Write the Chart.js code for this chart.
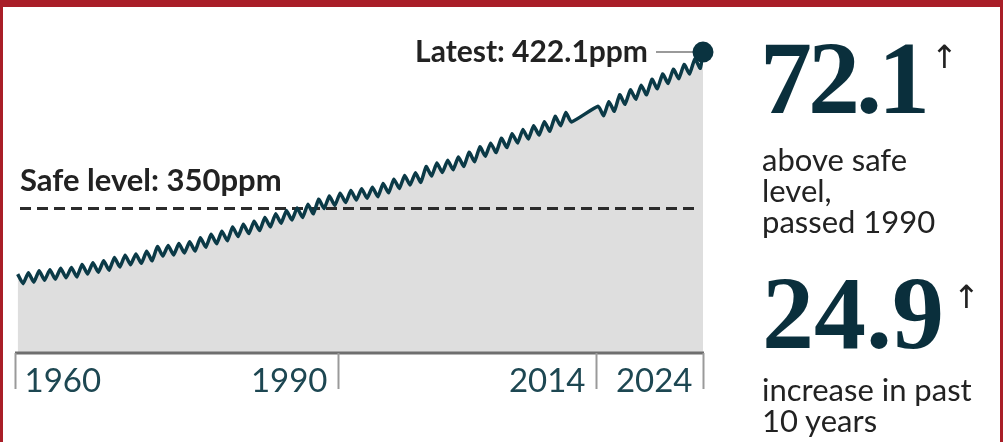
<!DOCTYPE html>
<html>
<head>
<meta charset="utf-8">
<script src="https://cdn.jsdelivr.net/npm/chart.js@4/dist/chart.umd.min.js"></script>
<style>
  html, body { margin: 0; padding: 0; background: #fff; }
  #wrap { position: relative; width: 1003px; height: 442px; overflow: hidden; background: #fff; }
  #c { position: absolute; left: 0; top: 0; }
  #frame { position: absolute; left: 0; top: 0; width: 1003px; height: 442px; box-sizing: border-box;
           border-top: 7px solid #a91e28; border-left: 3px solid #a91e28; border-right: 3px solid #a91e28; pointer-events: none; }
  .big { position: absolute; font-family: "Liberation Serif", serif; font-weight: 700; font-size: 104px; line-height: 1;
         color: #0a2f3c; white-space: nowrap; }
  .arrow { position: absolute; font-family: "DejaVu Sans", sans-serif; font-size: 32px; line-height: 1; color: #222; }
  .note { position: absolute; font-family: Lato, sans-serif; font-size: 31px; line-height: 31px; color: #222; white-space: nowrap; }
</style>
</head>
<body>
<div id="wrap">
  <canvas id="c" width="1003" height="442"></canvas>
  <div class="big" style="left:760px; top:26px; letter-spacing:-4px;">72.1</div>
  <div class="arrow" style="left:931px; top:41px;">↑</div>
  <div class="note" style="left:762px; top:144px;">above safe<br>level,<br>passed 1990</div>
  <div class="big" style="left:762px; top:261px; letter-spacing:0px;">24.9</div>
  <div class="arrow" style="left:953px; top:281px;">↑</div>
  <div class="note" style="left:762px; top:374px;">increase in past<br>10 years</div>
  <div id="frame"></div>
</div>
<script>
// ---- data (ppm) ----
const years = [1960,1961,1962,1963,1964,1965,1966,1967,1968,1969,
               1970,1971,1972,1973,1974,1975,1976,1977,1978,1979,
               1980,1981,1982,1983,1984,1985,1986,1987,1988,1989,
               1990,1991,1992,1993,1994,1995,1996,1997,1998,1999,
               2000,2001,2002,2003,2004,2005,2006,2007,2008,2009,
               2010,2011,
               2014,2015,2016,2017,2018,2019,2020,2021,2022,2023];
const seasonalHighs = [319.1,319.8,320.7,321.2,321.8,322.2,323.6,324.4,325.3,326.8,
                       327.9,328.5,329.7,331.9,332.4,333.3,334.2,336.0,337.6,339.0,
                       341.0,342.3,343.7,345.4,347.1,348.6,349.8,351.5,353.9,355.4,
                       356.7,357.9,358.7,359.4,361.2,363.2,364.9,366.1,369.0,370.7,
                       371.9,373.5,375.7,378.2,379.9,382.2,384.3,386.2,388.0,389.8,
                       392.3,394.1,
                       397.0,399.1,402.3,404.6,406.7,409.5,412.0,414.2,416.4,419.0];
const seasonalLows  = [314.7,315.4,316.3,316.8,317.4,317.8,319.2,320.0,320.9,322.4,
                       323.5,324.1,325.3,327.5,328.0,328.9,329.8,331.6,333.2,334.6,
                       336.6,337.9,339.3,341.0,342.7,344.2,345.4,347.1,349.5,351.0,
                       352.3,353.5,354.3,355.0,356.8,358.8,360.5,361.7,364.6,366.3,
                       367.5,369.1,371.3,373.8,375.5,377.8,379.9,381.8,383.6,385.4,
                       387.9,389.7,
                       392.6,394.7,397.9,400.2,402.3,405.1,407.6,409.8,412.0,414.6];
const latestYear = 2024.0;
const latestValue = 422.1;
const safeLevel = 350;
const tickYears = [1960, 1990, 2014, 2024];
const tickLabels = ['1960', '1990', '2014', '2024'];
const safeLabel = 'Safe level: 350ppm';
const latestLabel = 'Latest: 422.1ppm';

const points = [];
years.forEach((y, i) => {
  points.push({ x: y + 0.25, y: seasonalHighs[i] });
  points.push({ x: y + 0.75, y: seasonalLows[i] });
});
points.push({ x: latestYear, y: latestValue });

const overlay = {
  id: 'overlay',
  beforeDatasetDraw(chart) {
    const { ctx, scales: { x, y } } = chart;
    const py = Math.round(y.getPixelForValue(safeLevel)) + 0.5;
    ctx.save();
    ctx.strokeStyle = '#2b2b2b';
    ctx.lineWidth = 3;
    ctx.setLineDash([11, 6]);
    ctx.beginPath();
    ctx.moveTo(x.left + 5, py);
    ctx.lineTo(x.right - 6, py);
    ctx.stroke();
    ctx.restore();
  },
  afterDatasetsDraw(chart) {
    const { ctx, chartArea, scales: { x, y } } = chart;
    ctx.save();
    const ay = chartArea.bottom + 1;
    ctx.strokeStyle = '#6e6e6e';
    ctx.lineWidth = 3;
    ctx.beginPath();
    ctx.moveTo(x.left, ay);
    ctx.lineTo(x.right + 1, ay);
    ctx.stroke();
    ctx.font = '33px Lato, sans-serif';
    ctx.fillStyle = '#1d4752';
    ctx.textBaseline = 'alphabetic';
    tickYears.forEach((t, i) => {
      const px = Math.round(x.getPixelForValue(t)) + 0.5;
      ctx.strokeStyle = '#9a9a9a';
      ctx.lineWidth = 2;
      ctx.beginPath();
      ctx.moveTo(px, ay);
      ctx.lineTo(px, ay + 36);
      ctx.stroke();
      if (i === 0) { ctx.textAlign = 'left'; ctx.fillText(tickLabels[i], px + 9, ay + 39); }
      else { ctx.textAlign = 'right'; ctx.fillText(tickLabels[i], px - 11, ay + 39); }
    });
    ctx.font = 'bold 31px Lato, sans-serif';
    ctx.fillStyle = '#222';
    ctx.textAlign = 'left';
    ctx.fillText(safeLabel, x.left + 5, y.getPixelForValue(safeLevel) - 17);
    const lx = x.getPixelForValue(latestYear);
    const ly = y.getPixelForValue(latestValue);
    ctx.strokeStyle = '#9a9a9a';
    ctx.lineWidth = 2;
    ctx.beginPath();
    ctx.moveTo(lx - 47, ly);
    ctx.lineTo(lx, ly);
    ctx.stroke();
    ctx.font = 'bold 30px Lato, sans-serif';
    ctx.textAlign = 'right';
    ctx.fillText(latestLabel, lx - 55, ly + 10);
    ctx.fillStyle = '#0a3340';
    ctx.beginPath();
    ctx.arc(lx, ly, 10.5, 0, Math.PI * 2);
    ctx.fill();
    ctx.restore();
  }
};

new Chart(document.getElementById('c'), {
  type: 'line',
  data: {
    datasets: [{
      data: points,
      borderColor: '#0b3a47',
      borderWidth: 3.5,
      backgroundColor: '#dedede',
      fill: 'start',
      pointRadius: 0,
      tension: 0.15
    }]
  },
  options: {
    responsive: false,
    animation: false,
    devicePixelRatio: 1,
    layout: { padding: { left: 15, right: 300, top: 20, bottom: 90 } },
    plugins: { legend: { display: false }, tooltip: { enabled: false } },
    scales: {
      x: { type: 'linear', min: 1960, max: 2024, display: false },
      y: { min: 283, max: 437, display: false }
    }
  },
  plugins: [overlay]
});
</script>
</body>
</html>
